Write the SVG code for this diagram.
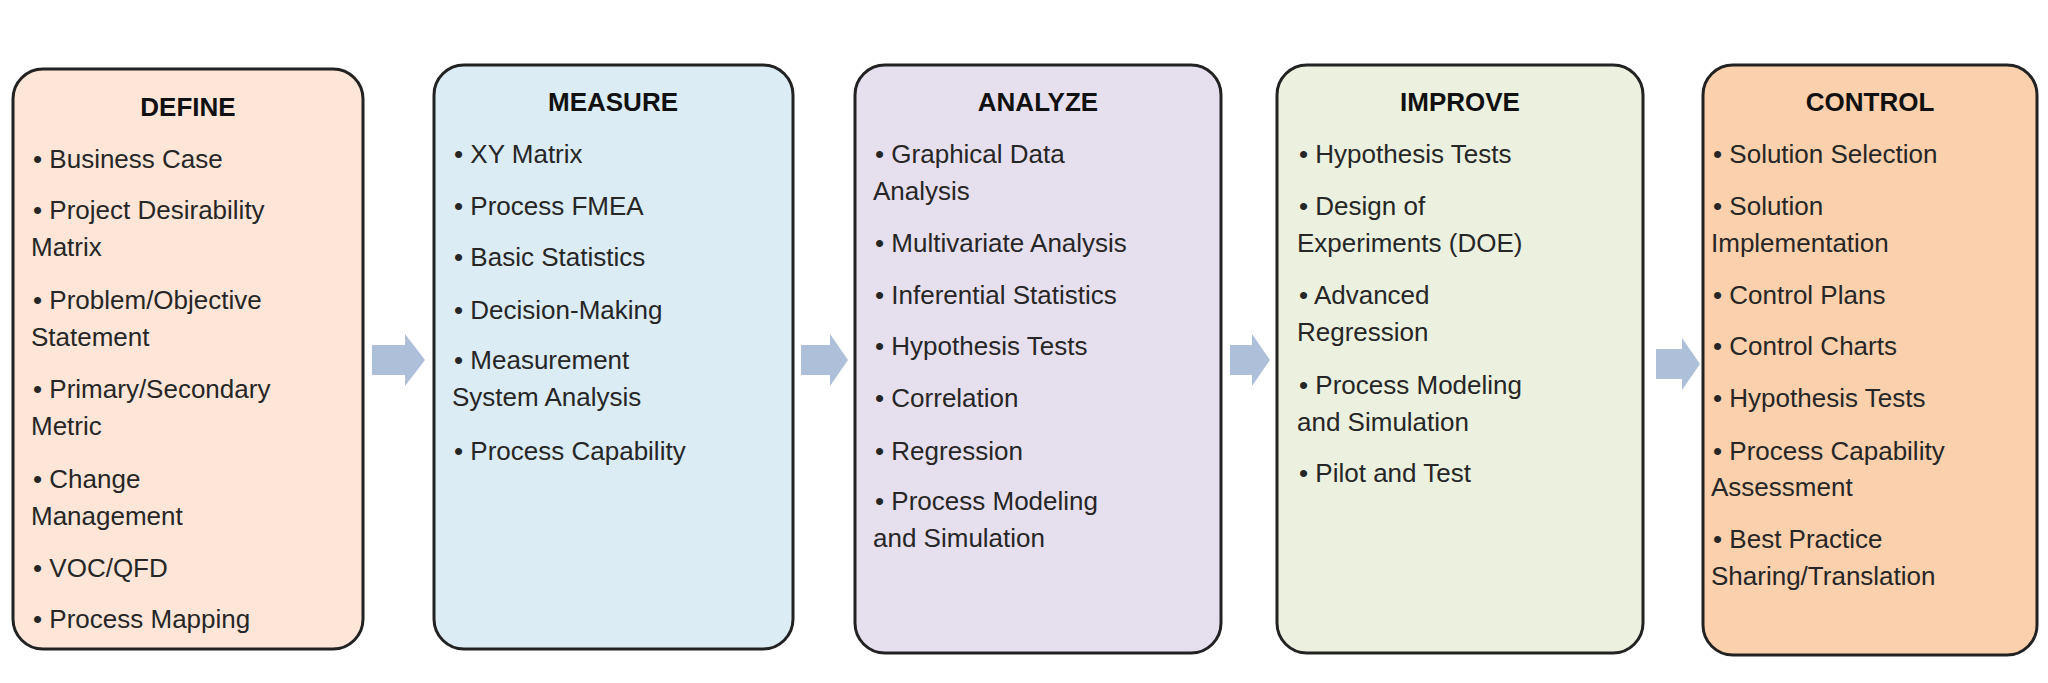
<svg xmlns="http://www.w3.org/2000/svg" width="2048" height="683" viewBox="0 0 2048 683">
<style>
.box{stroke:#222;stroke-width:3}
.t{font-family:"Liberation Sans",Arial,sans-serif;font-size:26px;fill:#262626}
.h{font-weight:bold;text-anchor:middle;fill:#111}
.arr{fill:#aebfd9}
</style>
<rect width="2048" height="683" fill="#fff"/>
<g id="connectors">
<polygon class="arr" points="372,345 405,345 405,334 425,360 405,386 405,375 372,375"/>
<polygon class="arr" points="801,345 830,345 830,334 848,360 830,386 830,375 801,375"/>
<polygon class="arr" points="1230,345 1252,345 1252,334 1270,360 1252,386 1252,375 1230,375"/>
<polygon class="arr" points="1656,349 1682,349 1682,338 1700,364 1682,390 1682,379 1656,379"/>
</g>
<g id="define">
<rect class="box" x="13" y="69" width="350" height="580" rx="30" fill="#fde6d8"/>
<text class="t h" x="188" y="116">DEFINE</text>
<text class="t" x="33" y="168">• Business Case</text>
<text class="t" x="33" y="219">• Project Desirability</text>
<text class="t" x="31" y="256">Matrix</text>
<text class="t" x="33" y="309">• Problem/Objective</text>
<text class="t" x="31" y="346">Statement</text>
<text class="t" x="33" y="398">• Primary/Secondary</text>
<text class="t" x="31" y="435">Metric</text>
<text class="t" x="33" y="488">• Change</text>
<text class="t" x="31" y="525">Management</text>
<text class="t" x="33" y="577">• VOC/QFD</text>
<text class="t" x="33" y="628">• Process Mapping</text>
</g>
<g id="measure">
<rect class="box" x="434" y="65" width="359" height="584" rx="30" fill="#dbecf4"/>
<text class="t h" x="613" y="111">MEASURE</text>
<text class="t" x="454" y="163">• XY Matrix</text>
<text class="t" x="454" y="215">• Process FMEA</text>
<text class="t" x="454" y="266">• Basic Statistics</text>
<text class="t" x="454" y="319">• Decision-Making</text>
<text class="t" x="454" y="369">• Measurement</text>
<text class="t" x="452" y="406">System Analysis</text>
<text class="t" x="454" y="460">• Process Capability</text>
</g>
<g id="analyze">
<rect class="box" x="855" y="65" width="366" height="588" rx="30" fill="#e6e0ee"/>
<text class="t h" x="1038" y="111">ANALYZE</text>
<text class="t" x="875" y="163">• Graphical Data</text>
<text class="t" x="873" y="200">Analysis</text>
<text class="t" x="875" y="252">• Multivariate Analysis</text>
<text class="t" x="875" y="304">• Inferential Statistics</text>
<text class="t" x="875" y="355">• Hypothesis Tests</text>
<text class="t" x="875" y="407">• Correlation</text>
<text class="t" x="875" y="460">• Regression</text>
<text class="t" x="875" y="510">• Process Modeling</text>
<text class="t" x="873" y="547">and Simulation</text>
</g>
<g id="improve">
<rect class="box" x="1277" y="65" width="366" height="588" rx="30" fill="#ebf1de"/>
<text class="t h" x="1460" y="111">IMPROVE</text>
<text class="t" x="1299" y="163">• Hypothesis Tests</text>
<text class="t" x="1299" y="215">• Design of</text>
<text class="t" x="1297" y="252">Experiments (DOE)</text>
<text class="t" x="1299" y="304">• Advanced</text>
<text class="t" x="1297" y="341">Regression</text>
<text class="t" x="1299" y="394">• Process Modeling</text>
<text class="t" x="1297" y="431">and Simulation</text>
<text class="t" x="1299" y="482">• Pilot and Test</text>
</g>
<g id="control">
<rect class="box" x="1703" y="65" width="334" height="590" rx="30" fill="#fbd0ac"/>
<text class="t h" x="1870" y="111">CONTROL</text>
<text class="t" x="1713" y="163">• Solution Selection</text>
<text class="t" x="1713" y="215">• Solution</text>
<text class="t" x="1711" y="252">Implementation</text>
<text class="t" x="1713" y="304">• Control Plans</text>
<text class="t" x="1713" y="355">• Control Charts</text>
<text class="t" x="1713" y="407">• Hypothesis Tests</text>
<text class="t" x="1713" y="460">• Process Capability</text>
<text class="t" x="1711" y="496">Assessment</text>
<text class="t" x="1713" y="548">• Best Practice</text>
<text class="t" x="1711" y="585">Sharing/Translation</text>
</g>
</svg>
